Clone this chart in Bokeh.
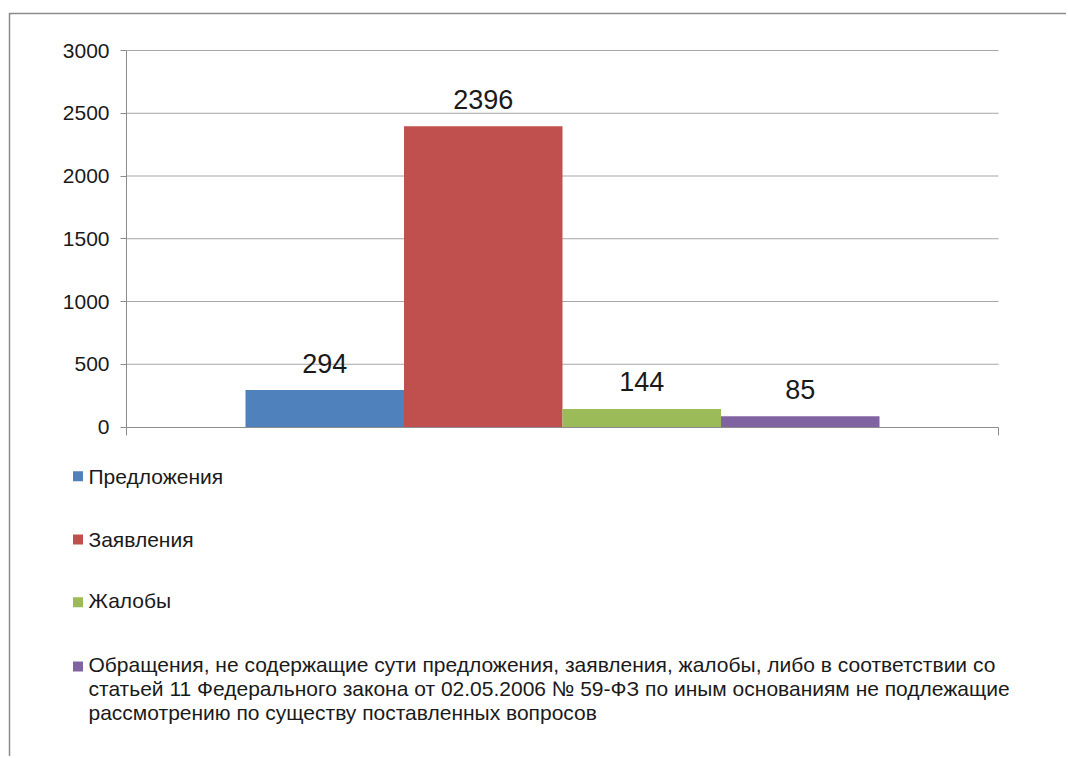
from bokeh.plotting import figure
from bokeh.models import Range1d, LinearAxis, FixedTicker, CustomJSTickFormatter
from bokeh.core.properties import value
from bokeh.embed import file_html
from bokeh.resources import INLINE

# ---------------- data ----------------
categories = [
    "Предложения",
    "Заявления",
    "Жалобы",
    "Обращения,  не содержащие сути предложения, заявления, жалобы, либо  в соответствии со "
    "статьей 11 Федерального закона от 02.05.2006  № 59-ФЗ по иным основаниям не подлежащие "
    "рассмотрению по существу поставленных вопросов",
]
counts = [294, 2396, 144, 85]
colors = ["#4f81bd", "#c0504d", "#9bbb59", "#8064a2"]
y_ticks = [0, 500, 1000, 1500, 2000, 2500, 3000]
legend_lines = [
    ["Предложения"],
    ["Заявления"],
    ["Жалобы"],
    ["Обращения,  не содержащие сути предложения, заявления, жалобы, либо  в соответствии со",
     "статьей 11 Федерального закона от 02.05.2006  № 59-ФЗ по иным основаниям не подлежащие",
     "рассмотрению по существу поставленных вопросов"],
]

# ---------------- layout (page pixels) ----------------
FONT = value("Liberation Sans")
ML, MT = 8, 12                                # figure margin (left, top)
W, H = 1058, 744
FX0, FY0 = ML + 2, MT + 2                     # plot frame top-left in page px
FX1, FY1 = ML + W, MT + H                     # plot frame bottom-right in page px
AX_L, AX_R = 126, 998                         # chart area left / right
Y0_PX, YMAX_PX = 426.5, 50                    # pixel rows of 0 and of the top tick
BAR0_PX, BAR_W_PX = 245, 158.5                # left edge of first bar, bar width

n = len(categories)
ymax = max(y_ticks)
k = (Y0_PX - YMAX_PX) / ymax
x_start = (FX0 - BAR0_PX) / BAR_W_PX
x_end = (FX1 - BAR0_PX) / BAR_W_PX
x_left = (AX_L - BAR0_PX) / BAR_W_PX
x_right = n + (AX_R - (BAR0_PX + n * BAR_W_PX)) / BAR_W_PX
y_start = -(FY1 - Y0_PX) / k
y_end = ymax + (YMAX_PX - FY0) / k

p = figure(width=W, height=H, output_backend="svg", toolbar_location=None,
           x_range=Range1d(x_start, x_end), y_range=Range1d(y_start, y_end),
           x_axis_location=None, y_axis_location=None,
           min_border_left=2, min_border_top=2, min_border_right=0, min_border_bottom=0,
           border_fill_color="#8c8c8c", background_fill_color="white",
           outline_line_color=None, margin=(MT, 0, 0, ML))
p.grid.visible = False
p.extra_x_ranges = {"px": Range1d(FX0, FX1)}
p.extra_y_ranges = {"px": Range1d(FY1, FY0)}

GRID = "#a6a6a6"
AXIS = "#8c8c8c"
TXT = "#1a1a1a"

# grid lines
p.segment(x0=[x_left] * (len(y_ticks) - 1), x1=[x_right] * (len(y_ticks) - 1),
          y0=y_ticks[1:], y1=y_ticks[1:], line_color=GRID, line_width=1)

# bars
xs = [i + 0.5 for i in range(n)]
p.vbar(x=xs, top=counts, bottom=0, width=1.0, fill_color=colors, line_color=None)

# value labels
p.text(x=xs, y=counts, text=[str(c) for c in counts], text_align="center",
       text_baseline="alphabetic", y_offset=-27, text_font=FONT,
       text_font_size="27px", text_color=TXT)

# axes
yaxis = LinearAxis(fixed_location=x_left, ticker=FixedTicker(ticks=y_ticks),
                   bounds=(0, ymax), axis_line_color=AXIS, major_tick_line_color=AXIS,
                   major_tick_out=6, major_tick_in=0, minor_tick_line_color=None,
                   major_label_text_font="Liberation Sans",
                   major_label_text_font_size="21px", major_label_text_color=TXT,
                   major_label_standoff=11)
p.add_layout(yaxis, "left")
xaxis = LinearAxis(fixed_location=0, ticker=FixedTicker(ticks=[x_left, x_right]),
                   bounds=(x_left, x_right), axis_line_color=AXIS,
                   major_tick_line_color=AXIS, major_tick_out=8, major_tick_in=0,
                   minor_tick_line_color=None,
                   formatter=CustomJSTickFormatter(code="return ''"))
p.add_layout(xaxis, "below")

# legend (page-pixel coordinates)
LEG_SQ_X = 77.5
LEG_TXT_X = 88
SQ_Y = [475.7, 539, 601.7, 666]
TXT_Y = [476.3, 538.5, 600.3, 664]
LINE_H = 24
p.rect(x=[LEG_SQ_X] * n, y=SQ_Y, width=10, height=10, fill_color=colors, line_color=None,
       x_range_name="px", y_range_name="px")
tx, ty, tt = [], [], []
for i, lines in enumerate(legend_lines):
    for j, line in enumerate(lines):
        tx.append(LEG_TXT_X)
        ty.append(TXT_Y[i] + j * LINE_H)
        tt.append(line)
p.text(x=tx, y=ty, text=tt, text_font_size="21px", text_align="left",
       text_baseline="alphabetic", text_font=FONT, text_color=TXT,
       x_range_name="px", y_range_name="px")

open("out.html", "w").write(file_html(p, INLINE))
